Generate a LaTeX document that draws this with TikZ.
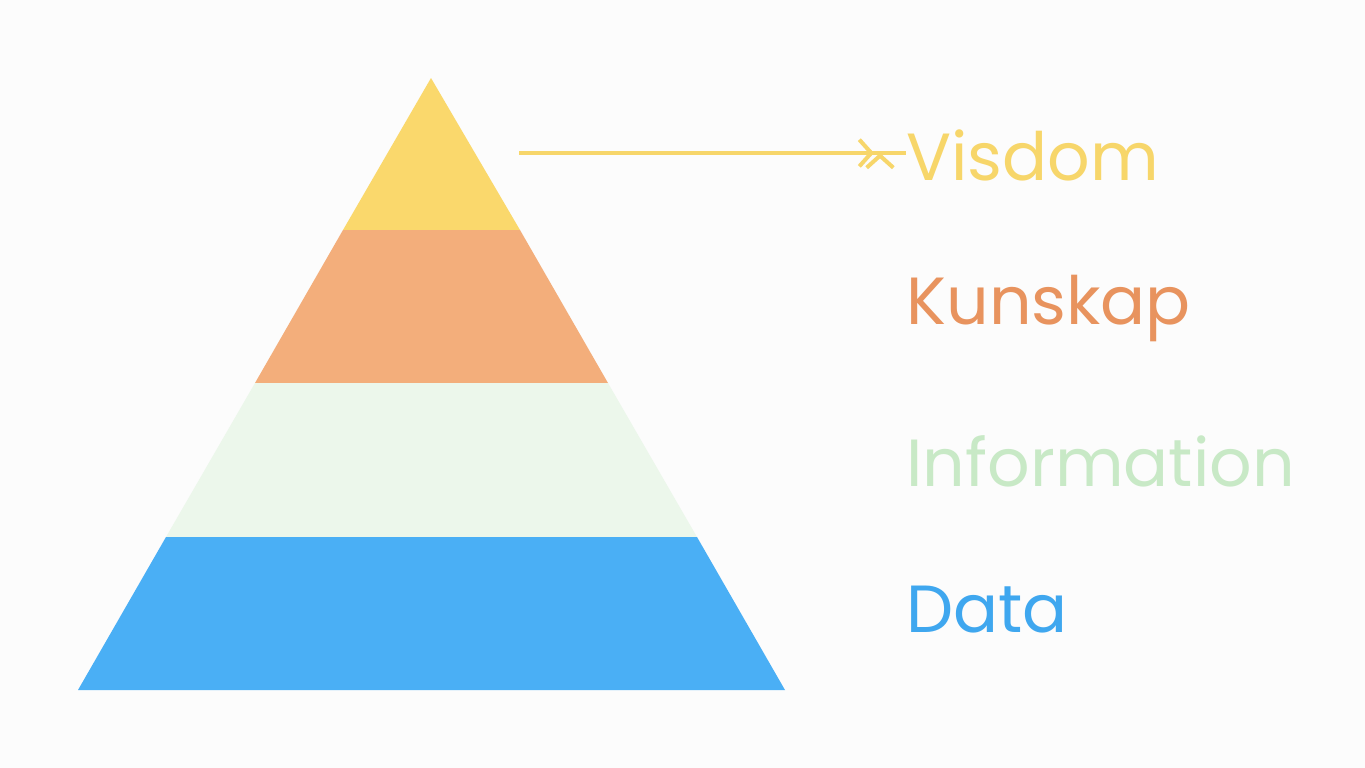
\documentclass[tikz,border=0pt]{standalone}
\usepackage{fontspec}
\setmainfont{Poppins}
\usetikzlibrary{arrows.meta}
\definecolor{cWis}{HTML}{FAD86C}
\definecolor{cKno}{HTML}{F3AE7B}
\definecolor{cInf}{HTML}{ECF7EB}
\definecolor{cDat}{HTML}{4AAFF5}
\definecolor{tWis}{HTML}{F7D66A}
\definecolor{tKno}{HTML}{E8935E}
\definecolor{tInf}{HTML}{C8E9C6}
\definecolor{tDat}{HTML}{3FA7EF}
\tikzset{every picture/.style={line width=0.75pt},
  lbl/.style={anchor=west,inner sep=0pt,font=\fontsize{50}{60}\selectfont},
  pointer/.style={line width=3pt,-{Straight Barb[length=9pt,width=20pt,line width=3pt]}}}
\begin{document}
\begin{tikzpicture}[x=0.75pt,y=0.75pt,yscale=-1]
\fill[white!99!black] (0,0) rectangle (1365,768);
\useasboundingbox (0,0) rectangle (1365,768);

%Pyramid bands
\fill[cWis] (431,78) -- (520,230) -- (343,230) -- cycle;
\fill[cKno] (343,230) -- (520,230) -- (608,383) -- (255,383) -- cycle;
\fill[cInf] (255,383) -- (608,383) -- (697,537) -- (166,537) -- cycle;
\fill[cDat] (166,537) -- (697,537) -- (785,690) -- (78,690) -- cycle;

%Labels
\node[lbl,text=tWis] (wis) at (906,155) {Visdom};
\node[lbl,text=tKno] (kno) at (906,308) {Kunskap};
\node[lbl,text=tInf] (inf) at (906,461) {Information};
\node[lbl,text=tDat] (dat) at (906,610) {Data};

\coordinate (sWis) at (519,153);
\coordinate (sKno) at (610,307);
\coordinate (sInf) at (698,460);
\coordinate (sDat) at (787,614);

%Arrows
\draw[pointer,tWis] (sWis) -- (sWis -| wis.west) ++(-26,0);
\draw[pointer,tWis] (sWis) -- ([xshift=-24pt]sWis -| wis.west);
\end{tikzpicture}
\end{document}
